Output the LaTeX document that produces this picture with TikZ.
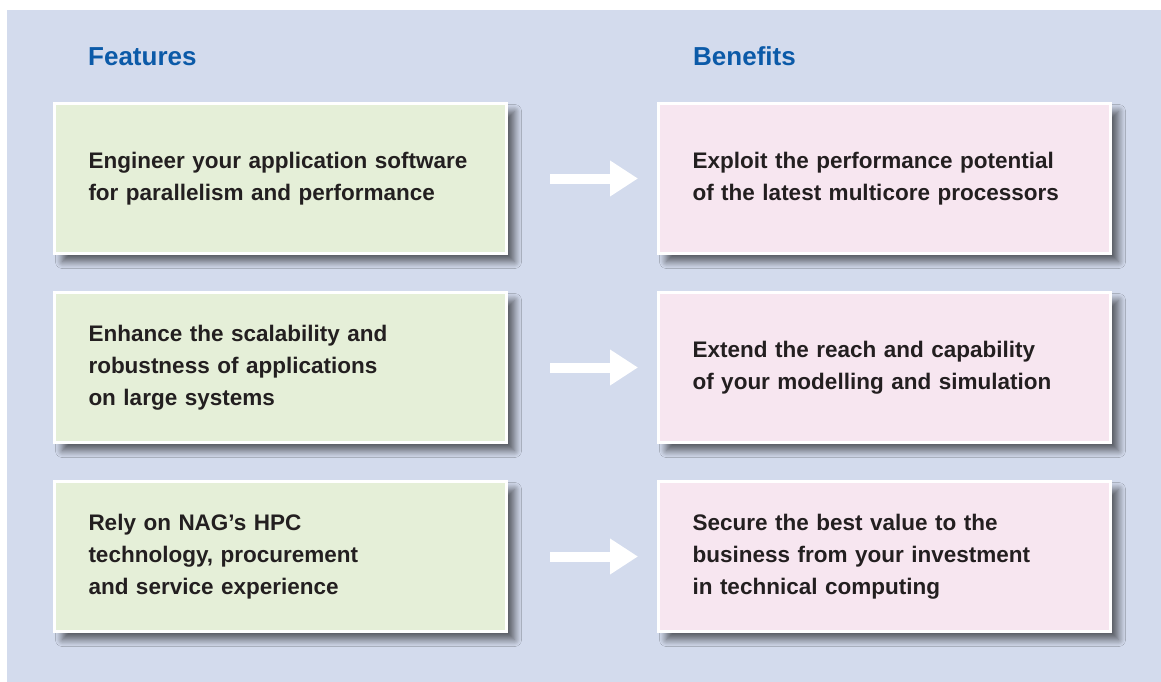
\documentclass[tikz,border=0pt]{standalone}
\usepackage{fontspec}
\setmainfont{Liberation Sans}
\usetikzlibrary{positioning,arrows.meta,shadows.blur}
\definecolor{panel}{HTML}{D3DBED}
\definecolor{featfill}{HTML}{E5EFD8}
\definecolor{benfill}{HTML}{F7E6F0}
\definecolor{headblue}{HTML}{0B5AA8}
\definecolor{ink}{HTML}{231F20}

\tikzset{
  card/.style={draw=white, line width=3pt, minimum width=452pt, minimum height=150pt,
    text width=384pt, inner xsep=34pt, align=left, text=ink,
    font=\fontsize{22.5}{32}\selectfont\bfseries,
    blur shadow={shadow xshift=8pt, shadow yshift=-8pt, shadow blur steps=12, shadow blur radius=7pt, shadow opacity=60}},
  feat/.style={card, fill=featfill},
  ben/.style={card, fill=benfill},
  head/.style={text=headblue, font=\fontsize{26}{30}\selectfont\bfseries, anchor=base west, inner sep=0pt},
  link/.style={white, line width=10pt, -{Triangle[length=28pt,width=34pt]}, shorten <=42pt, shorten >=19pt}
}

\begin{document}
\begin{tikzpicture}[node distance=36pt]
  \useasboundingbox (0,0) rectangle (1161pt,-682pt);
  \fill[panel] (7pt,-10pt) rectangle (1161pt,-682pt);
  \node[head] (hfeat) at (88pt,-66pt) {Features};
  \node[head] (hben) at (693pt,-66pt) {Benefits};
  \node[feat] (f1) at (280.5pt,-178.5pt) {Engineer your application software\\for parallelism and performance};
  \node[feat, below=of f1] (f2) {Enhance the scalability and\\robustness of applications\\on large systems};
  \node[feat, below=of f2] (f3) {Rely on NAG’s HPC\\technology, procurement\\and service experience};
  \node[ben, right=149pt of f1] (b1) {Exploit the performance potential\\of the latest multicore processors};
  \node[ben, right=149pt of f2] (b2) {Extend the reach and capability\\of your modelling and simulation};
  \node[ben, right=149pt of f3] (b3) {Secure the best value to the\\business from your investment\\in technical computing};
  \draw[link] (f1) -- (b1);
  \draw[link] (f2) -- (b2);
  \draw[link] (f3) -- (b3);
\end{tikzpicture}
\end{document}
